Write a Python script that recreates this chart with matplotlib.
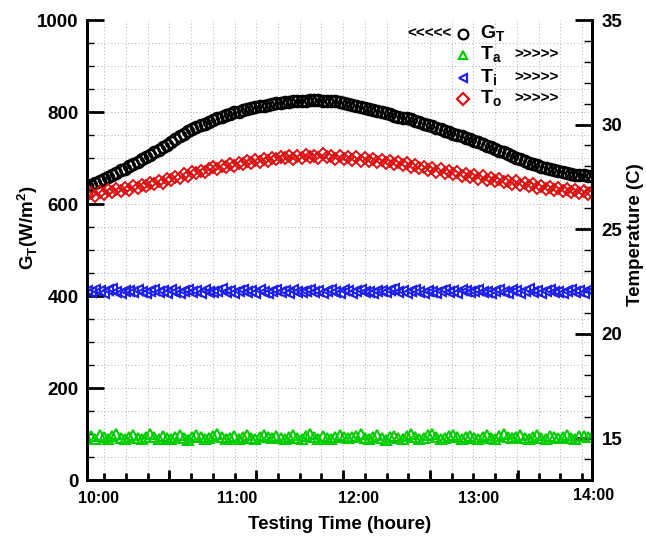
import numpy as np
import matplotlib
matplotlib.use("Agg")
import matplotlib.pyplot as plt
from matplotlib.ticker import FixedLocator, MultipleLocator

plt.rcParams["font.family"] = ["Liberation Sans", "DejaVu Sans"]
plt.rcParams["font.weight"] = "bold"
plt.rcParams["mathtext.fontset"] = "custom"
plt.rcParams["mathtext.rm"] = "Liberation Sans:bold"
plt.rcParams["mathtext.bf"] = "Liberation Sans:bold"

# sampling every 2 minutes from 10:00 to 14:00
minutes = np.arange(0, 242, 2)
hours = 10 + minutes / 60.0

# solar radiation G_T (W/m2), left axis
g_t = [
    640, 642, 645, 649, 654, 659, 664, 668, 673, 677,
    682, 687, 692, 697, 702, 707, 712, 718, 724, 729,
    735, 741, 748, 753, 758, 763, 767, 771, 775, 779,
    783, 787, 790, 793, 796, 799, 801, 804, 806, 808,
    810, 812, 814, 816, 818, 819, 820, 821, 822, 823,
    824, 824, 825, 826, 826, 826, 825, 825, 824, 823,
    821, 820, 818, 816, 813, 811, 809, 806, 804, 802,
    800, 797, 795, 792, 790, 788, 786, 784, 781, 778,
    775, 772, 769, 766, 762, 759, 756, 753, 750, 747,
    744, 741, 737, 734, 730, 727, 723, 720, 716, 712,
    708, 704, 700, 697, 693, 690, 687, 684, 681, 679,
    677, 674, 672, 670, 668, 666, 664, 663, 662, 661,
    660,
]

# ambient temperature T_a (C), right axis
t_a = [
    15.02, 15.10, 14.96, 15.14, 15.05, 14.98, 15.12, 15.20, 15.03, 14.95,
    15.08, 15.15, 15.00, 14.94, 15.06, 15.18, 15.04, 14.97, 15.11, 15.02,
    14.95, 15.07, 15.13, 15.00, 14.93, 15.05, 15.16, 15.08, 14.98, 15.03,
    15.12, 15.22, 15.06, 14.97, 15.02, 15.10, 14.95, 15.04, 15.14, 15.01,
    14.96, 15.08, 15.17, 15.05, 14.99, 15.11, 15.03, 14.94, 15.06, 15.13,
    15.00, 14.96, 15.09, 15.18, 15.04, 14.98, 15.12, 15.02, 14.95, 15.07,
    15.15, 15.06, 14.99, 15.04, 15.11, 15.21, 15.03, 14.96, 15.08, 15.14,
    15.01, 14.93, 15.05, 15.12, 15.02, 14.97, 15.10, 15.19, 15.07, 14.98,
    15.03, 15.13, 15.22, 15.08, 14.95, 15.01, 15.09, 15.16, 15.04, 14.97,
    15.06, 15.12, 15.00, 14.94, 15.05, 15.15, 15.03, 14.98, 15.10, 15.18,
    15.07, 14.99, 15.04, 15.13, 15.01, 14.95, 15.08, 15.14, 15.02, 14.97,
    15.11, 15.05, 14.99, 15.06, 15.16, 15.03, 14.96, 15.09, 15.12, 15.04,
    15.07,
]

# inlet temperature T_i (C)
t_i = [
    22.05, 21.98, 22.10, 22.02, 21.95, 22.08, 22.12, 22.00, 21.94, 22.06,
    22.03, 21.97, 22.09, 22.01, 21.93, 22.04, 22.11, 21.99, 22.02, 21.96,
    22.07, 22.00, 21.94, 22.05, 22.10, 21.98, 22.03, 21.95, 22.08, 22.01,
    21.97, 22.06, 22.12, 21.99, 22.02, 21.94, 22.05, 22.09, 21.98, 22.03,
    21.96, 22.07, 22.00, 21.93, 22.04, 22.10, 21.99, 22.02, 21.95, 22.08,
    22.01, 21.97, 22.06, 22.11, 21.98, 22.03, 21.94, 22.05, 22.09, 22.00,
    21.96, 22.07, 22.02, 21.95, 22.04, 22.10, 21.99, 22.01, 21.93, 22.06,
    22.03, 21.97, 22.08, 22.12, 21.98, 22.02, 21.95, 22.05, 22.09, 22.00,
    21.96, 22.06, 22.01, 21.94, 22.04, 22.11, 21.99, 22.03, 21.95, 22.07,
    22.02, 21.97, 22.05, 22.10, 21.98, 22.01, 21.94, 22.06, 22.09, 22.00,
    21.96, 22.07, 22.03, 21.95, 22.04, 22.12, 21.99, 22.02, 21.94, 22.05,
    22.08, 21.98, 22.01, 21.96, 22.06, 22.10, 21.99, 22.03, 21.95, 22.07,
    22.02,
]

# outlet temperature T_o (C)
t_o = [
    26.65, 26.72, 26.60, 26.78, 26.70, 26.85, 26.76, 26.92, 26.83, 26.95,
    26.88, 27.05, 26.97, 27.12, 27.06, 27.20, 27.14, 27.30, 27.22, 27.38,
    27.33, 27.50, 27.45, 27.62, 27.55, 27.72, 27.66, 27.80, 27.72, 27.88,
    27.95, 27.86, 28.02, 27.96, 28.10, 28.04, 28.18, 28.09, 28.24, 28.15,
    28.30, 28.22, 28.36, 28.28, 28.42, 28.33, 28.45, 28.38, 28.50, 28.36,
    28.48, 28.41, 28.55, 28.44, 28.52, 28.40, 28.58, 28.43, 28.50, 28.37,
    28.48, 28.36, 28.45, 28.30, 28.44, 28.28, 28.40, 28.25, 28.36, 28.20,
    28.32, 28.16, 28.26, 28.10, 28.22, 28.05, 28.14, 27.98, 28.06, 27.90,
    27.98, 27.82, 27.90, 27.75, 27.86, 27.68, 27.80, 27.62, 27.72, 27.55,
    27.64, 27.50, 27.58, 27.42, 27.52, 27.36, 27.45, 27.30, 27.40, 27.24,
    27.32, 27.18, 27.28, 27.10, 27.20, 27.05, 27.14, 26.98, 27.08, 26.92,
    27.02, 26.86, 26.96, 26.80, 26.92, 26.76, 26.88, 26.72, 26.82, 26.70,
    26.78,
]

time_labels = ["10:00", "11:00", "12:00", "13:00", "14:00"]
time_label_pos = [10.09, 11.19, 12.15, 13.10, 14.01]

fig = plt.figure(figsize=(6.46, 5.38), dpi=100)
ax = fig.add_axes([0.1347, 0.1078, 0.7817, 0.855])
ax2 = ax.twinx()

grid_kw = dict(color="#b0b0b0", linestyle=(0, (1, 2.5)), linewidth=0.7, zorder=0)
for xv in np.arange(10.137, 14.0, 0.172):
    ax.axvline(xv, **grid_kw)
for yv in np.arange(50, 1000, 50):
    ax.axhline(yv, **grid_kw)

ax.plot(hours, g_t, linestyle="none", marker="o", ms=8, mfc="none",
        mec="black", mew=1.8, zorder=3)
ax2.plot(hours, t_a, linestyle="none", marker="^", ms=7, mfc="none",
         mec="#00cc00", mew=1.5)
ax2.plot(hours, t_i, linestyle="none", marker="<", ms=7, mfc="none",
         mec="#2020ee", mew=1.5)
ax2.plot(hours, t_o, linestyle="none", marker="D", ms=6, mfc="none",
         mec="#dd1111", mew=1.4)

ax.set_xlim(10, 14)
ax.set_ylim(0, 1000)
ax2.set_ylim(13, 35)

for a in (ax, ax2):
    a.spines["top"].set_visible(False)
    for s in ("left", "right", "bottom"):
        a.spines[s].set_linewidth(2)

ax.xaxis.set_major_locator(FixedLocator([10.65, 11.34, 12.03, 12.72, 13.41]))
ax.xaxis.set_minor_locator(FixedLocator(np.arange(10.137, 14.0, 0.172)))
ax.tick_params(axis="x", which="major", direction="in", length=7, width=2,
               labelbottom=False)
ax.tick_params(axis="x", which="minor", direction="in", length=5, width=2)

ax.yaxis.set_major_locator(MultipleLocator(200))
ax.yaxis.set_minor_locator(MultipleLocator(50))
ax.tick_params(axis="y", which="major", direction="in", length=12, width=2,
               labelsize=13.5, pad=6)
ax.tick_params(axis="y", which="minor", direction="in", length=5, width=1)

ax2.yaxis.set_major_locator(MultipleLocator(5))
ax2.yaxis.set_minor_locator(MultipleLocator(1))
ax2.tick_params(axis="y", which="major", direction="in", length=12, width=2,
                labelsize=13.5, pad=7)
ax2.tick_params(axis="y", which="minor", direction="in", length=6, width=1)

# the time labels sit as free text below the axis, the last one a bit higher
label_y = [-0.04, -0.04, -0.04, -0.04, -0.033]
for lab, xp, yp in zip(time_labels, time_label_pos, label_y):
    ax.text(xp, yp, lab, transform=ax.get_xaxis_transform(),
            ha="center", va="center", fontsize=11.5, fontweight="bold")

ax.set_xlabel("Testing Time (houre)", fontsize=13.5, fontweight="bold")
ax.xaxis.set_label_coords(0.5, -0.078)
ax.set_ylabel(r"G$_{\mathbf{T}}$(W/m$^{\mathbf{2}}$)", fontsize=13.5,
              fontweight="bold")
ax.yaxis.set_label_coords(-0.093, 0.548)
ax2.set_ylabel("Temperature (C)", fontsize=13.5, fontweight="bold")
ax2.yaxis.set_label_coords(1.07, 0.533)

# custom legend in the upper right
leg_items = [
    ("o", "black", r"G$_{\mathbf{T}}$", 0.969),
    ("^", "#00cc00", r"T$_{\mathbf{a}}$", 0.924),
    ("<", "#2020ee", r"T$_{\mathbf{i}}$", 0.874),
    ("D", "#dd1111", r"T$_{\mathbf{o}}$", 0.828),
]
for mk, col, lab, fy in leg_items:
    ax2.plot([0.745], [fy], marker=mk, ms=7 if mk == "o" else 6, mfc="none",
             mec=col, mew=1.6, transform=ax2.transAxes, clip_on=False)
    ax2.text(0.778, fy, lab, transform=ax2.transAxes, ha="left", va="center",
             fontsize=14, fontweight="bold")
ax2.text(0.722, 0.969, "<<<<<", transform=ax2.transAxes, ha="right",
         va="center", fontsize=11, fontweight="bold")
for fy in (0.924, 0.874, 0.828):
    ax2.text(0.847, fy, ">>>>>", transform=ax2.transAxes, ha="left",
             va="center", fontsize=11, fontweight="bold")

fig.savefig("out.png", dpi=100)
